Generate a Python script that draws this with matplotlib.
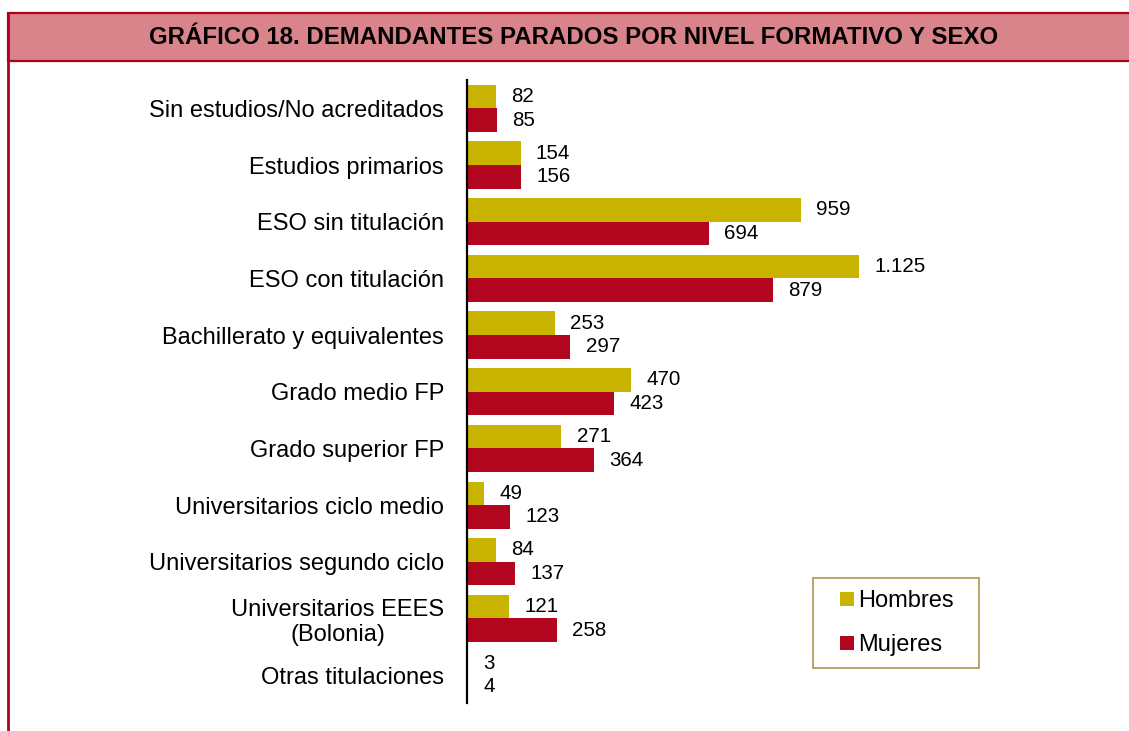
import matplotlib
matplotlib.use("Agg")
import matplotlib.pyplot as plt
from matplotlib.lines import Line2D
from matplotlib.patches import Rectangle
from matplotlib import font_manager as fm

categories = [
    "Sin estudios/No acreditados",
    "Estudios primarios",
    "ESO sin titulación",
    "ESO con titulación",
    "Bachillerato y equivalentes",
    "Grado medio FP",
    "Grado superior FP",
    "Universitarios ciclo medio",
    "Universitarios segundo ciclo",
    "Universitarios EEES\n(Bolonia)",
    "Otras titulaciones",
]
hombres = [82, 154, 959, 1125, 253, 470, 271, 49, 84, 121, 3]
mujeres = [85, 156, 694, 879, 297, 423, 364, 123, 137, 258, 4]
series_names = ["Hombres", "Mujeres"]
title = "GRÁFICO 18. DEMANDANTES PARADOS POR NIVEL FORMATIVO Y SEXO"

GOLD = "#C8B400"
RED = "#B2061F"
TITLE_FILL = "#D9848B"
FRAME = "#B0001E"

W, H = 1129, 731
fig = plt.figure(figsize=(W / 100, H / 100), dpi=100)
plt.rcParams["font.family"] = ["Liberation Sans", "DejaVu Sans"]

def fx(px):
    return px / W

def fy(py):
    return 1 - py / H

# frame / title bar
fig.patches.append(Rectangle((fx(8), fy(61)), fx(1140 - 8), (61 - 13) / H,
                             transform=fig.transFigure, facecolor=TITLE_FILL,
                             edgecolor=FRAME, linewidth=1.6, zorder=0))
fig.lines.append(Line2D([fx(8), fx(8)], [fy(13), 0], transform=fig.transFigure,
                        color=FRAME, linewidth=2.0))

names = {f.name for f in fm.fontManager.ttflist}
tfam = "Liberation Sans Narrow" if "Liberation Sans Narrow" in names else "Liberation Sans"
tt = fig.text(fx(574), fy(37), title, ha="center", va="center",
              fontsize=16, fontweight="bold", family=[tfam, "DejaVu Sans"], color="black")

# axes
n = len(categories)
spacing_px = 56.67
ax_h = n * spacing_px
ax_top = 80
px_per_unit = 0.3484
xmax = 1800
ax = fig.add_axes([fx(467), fy(ax_top + ax_h), xmax * px_per_unit / W, ax_h / H])
ax.set_xlim(0, xmax)
ax.set_ylim(n - 0.5, -0.5)

bh = 0.415
ys = list(range(n))
ax.barh([y - bh / 2 for y in ys], hombres, height=bh, color=GOLD, label=series_names[0])
ax.barh([y + bh / 2 for y in ys], mujeres, height=bh, color=RED, label=series_names[1])

def fmt(v):
    return f"{v:,}".replace(",", ".")

for y, v in zip(ys, hombres):
    ax.annotate(fmt(v), (v, y - bh / 2), xytext=(11, 0), textcoords="offset points",
                ha="left", va="center", fontsize=14.8)
for y, v in zip(ys, mujeres):
    ax.annotate(fmt(v), (v, y + bh / 2), xytext=(11, 0), textcoords="offset points",
                ha="left", va="center", fontsize=14.8)

ax.set_yticks(ys)
ax.set_yticklabels(categories, fontsize=17, ha="right")
for lab in ax.get_yticklabels():
    lab.set_multialignment("center")
ax.tick_params(axis="y", length=0, pad=16.5)
ax.xaxis.set_visible(False)
for s in ["top", "right", "bottom"]:
    ax.spines[s].set_visible(False)
ax.spines["left"].set_linewidth(1.6)
ax.spines["left"].set_color("black")

handles = [Line2D([], [], marker="s", linestyle="none", markersize=9.6,
                  markerfacecolor=GOLD, markeredgewidth=0),
           Line2D([], [], marker="s", linestyle="none", markersize=9.6,
                  markerfacecolor=RED, markeredgewidth=0)]
leg = ax.legend(handles, series_names, loc="upper left",
                bbox_to_anchor=(fx(813), fy(578), fx(979 - 813), 0),
                bbox_transform=fig.transFigure, mode="expand",
                fontsize=17, frameon=True, fancybox=False, borderpad=0.51,
                handlelength=1.83, handletextpad=-0.43, labelspacing=0.92,
                borderaxespad=0)
leg.get_frame().set_edgecolor("#9C8A30")
leg.get_frame().set_linewidth(1.3)

# fit title width
fig.canvas.draw()
bb = tt.get_window_extent()
tt.set_fontsize(16 * 852 / bb.width)

fig.savefig("out.png", dpi=100)
